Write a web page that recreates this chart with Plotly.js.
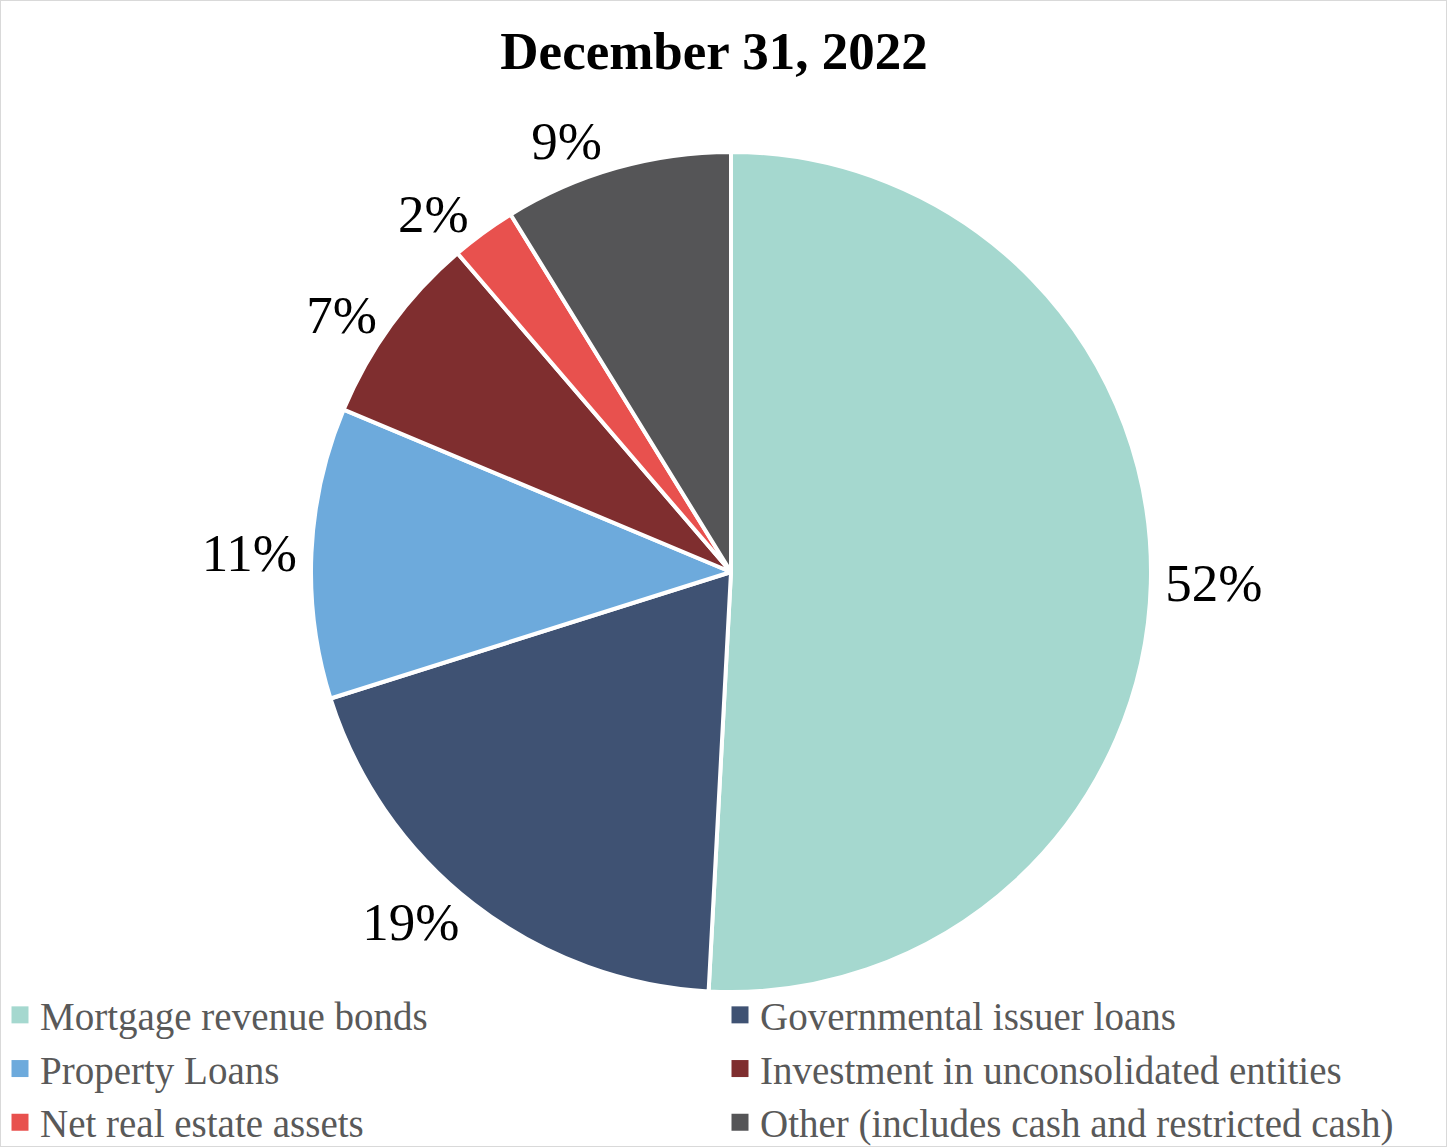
<!DOCTYPE html>
<html>
<head>
<meta charset="utf-8">
<script src="https://cdn.plot.ly/plotly-3.0.1.min.js"></script>
<style>
html, body { margin: 0; padding: 0; background: #fff; }
#chart { width: 1447px; height: 1147px; }
</style>
</head>
<body>
<div id="chart"></div>
<script>
const categories = [
  "Mortgage revenue bonds",
  "Governmental issuer loans",
  "Property Loans",
  "Investment in unconsolidated entities",
  "Net real estate assets",
  "Other (includes cash and restricted cash)"
];
const shares = [50.9, 19.3, 11.2, 7.4, 2.5, 8.8];
const pctLabels = ["52%", "19%", "11%", "7%", "2%", "9%"];
const colors = ["#A5D8CF", "#3F5273", "#6DAADC", "#7F2E2F", "#E8514E", "#555557"];

const W = 1447, H = 1147;
const cx = 731, cy = 572, r = 420;

const trace = {
  type: "pie",
  labels: categories,
  values: shares,
  text: pctLabels,
  textinfo: "text",
  textposition: "outside",
  sort: false,
  direction: "clockwise",
  rotation: 0,
  marker: { colors: colors, line: { color: "#ffffff", width: 4 } },
  outsidetextfont: { family: "Liberation Serif, Times New Roman, serif", size: 53, color: "#000000" },
  domain: {
    x: [(cx - r) / W, (cx + r) / W],
    y: [(H - cy - r) / H, (H - cy + r) / H]
  },
  hoverinfo: "label+percent"
};

const layout = {
  width: W,
  height: H,
  margin: { l: 0, r: 0, t: 0, b: 0, autoexpand: false },
  paper_bgcolor: "#ffffff",
  title: {
    text: "<b>December 31, 2022</b>",
    font: { family: "Liberation Serif, Times New Roman, serif", size: 53, color: "#000000" },
    x: 714 / W,
    xanchor: "center",
    y: 1 - 50 / H,
    yanchor: "middle"
  },
  showlegend: true,
  legend: {
    orientation: "h",
    x: 0,
    xanchor: "left",
    y: -8 / H,
    yanchor: "bottom",
    entrywidth: 675,
    entrywidthmode: "pixels",
    traceorder: "normal",
    font: { family: "Liberation Serif, Times New Roman, serif", size: 39, color: "#595959" },
    bgcolor: "rgba(0,0,0,0)"
  },
  shapes: [{
    type: "rect", xref: "paper", yref: "paper",
    x0: 0, x1: 1, y0: 0, y1: 1,
    line: { color: "#D9D9D9", width: 2 }
  }]
};

Plotly.newPlot("chart", [trace], layout, { displayModeBar: false, staticPlot: true }).then(function (gd) {
  // Enlarge legend swatches and drop the white slice outline on them
  gd.querySelectorAll("path.legendpie").forEach(function (p) {
    p.setAttribute("d", "M8.5,8.5H-8.5V-8.5H8.5Z");
    p.style.strokeWidth = "0px";
  });
});
</script>
</body>
</html>
